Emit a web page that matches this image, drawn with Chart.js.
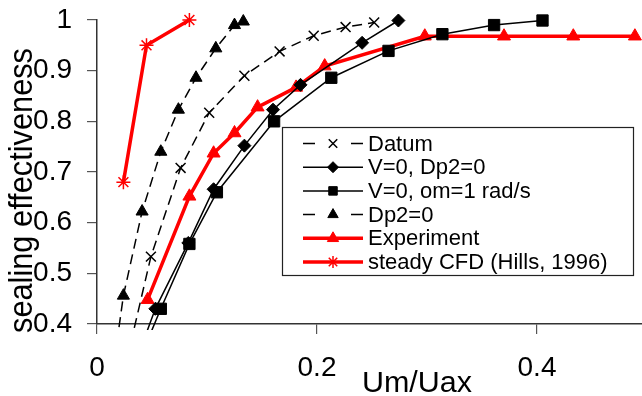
<!DOCTYPE html>
<html>
<head>
<meta charset="utf-8">
<script src="https://cdn.jsdelivr.net/npm/chart.js@4/dist/chart.umd.min.js"></script>
<style>
html, body { margin: 0; padding: 0; overflow: hidden; background: #fff; width: 642px; height: 396px; }
canvas { display: block; }
</style>
</head>
<body>
<canvas id="c" width="656" height="396"></canvas>
<script>
// ---- data ----
const datumX = [0.024, 0.049, 0.076, 0.102, 0.134, 0.166, 0.197, 0.226, 0.252];
const datumY = [0.300, 0.533, 0.708, 0.817, 0.890, 0.938, 0.969, 0.986, 0.995];

const v0dp2X = [0.031, 0.053, 0.083, 0.106, 0.134, 0.160, 0.185, 0.241, 0.274];
const v0dp2Y = [0.300, 0.430, 0.560, 0.666, 0.752, 0.823, 0.872, 0.955, 0.999];

const v0omX = [0.033, 0.058, 0.084, 0.109, 0.161, 0.213, 0.265, 0.314, 0.361, 0.405];
const v0omY = [0.300, 0.430, 0.558, 0.660, 0.800, 0.886, 0.939, 0.972, 0.990, 0.999];

const dp2X = [0.014, 0.024, 0.041, 0.058, 0.074, 0.090, 0.108, 0.125, 0.133];
const dp2Y = [0.300, 0.456, 0.622, 0.740, 0.823, 0.886, 0.944, 0.990, 0.997];

const expX = [0.046, 0.084, 0.106, 0.125, 0.146, 0.181, 0.207, 0.298, 0.370, 0.433, 0.489];
const expY = [0.448, 0.652, 0.737, 0.777, 0.828, 0.867, 0.909, 0.968, 0.968, 0.968, 0.968];

const cfdX = [0.024, 0.045, 0.084];
const cfdY = [0.680, 0.950, 1.000];

const xTicks = [0, 0.2, 0.4];
const yTicks = [0.4, 0.5, 0.6, 0.7, 0.8, 0.9, 1];
const xTitle = 'Um/Uax';
const yTitle = 'sealing effectiveness';
const labels = ['Datum', 'V=0, Dp2=0', 'V=0, om=1 rad/s', 'Dp2=0', 'Experiment', 'steady CFD (Hills, 1996)'];

const pts = (xs, ys) => xs.map((x, i) => ({x: x, y: ys[i]}));
const FONT = '"Liberation Sans", Arial, sans-serif';
const clip = {left: 10, top: 10, right: 10, bottom: 6};

const datasets = [
  {label: labels[0], data: pts(datumX, datumY), borderColor: '#000', backgroundColor: '#000', borderWidth: 1.5,
   borderDash: [10, 6], pointStyle: 'crossRot', pointRadius: 7, pointBorderWidth: 1.5, order: 2},
  {label: labels[1], data: pts(v0dp2X, v0dp2Y), borderColor: '#000', backgroundColor: '#000', borderWidth: 1.5,
   pointStyle: 'rectRot', pointRadius: 6.5, pointBorderWidth: 1, order: 2},
  {label: labels[2], data: pts(v0omX, v0omY), borderColor: '#000', backgroundColor: '#000', borderWidth: 1.5,
   pointStyle: 'rect', pointRadius: 8, pointBorderWidth: 1, order: 2},
  {label: labels[3], data: pts(dp2X, dp2Y), borderColor: '#000', backgroundColor: '#000', borderWidth: 1.5,
   borderDash: [10, 6], pointStyle: 'triangle', pointRadius: 7, pointBorderWidth: 1, order: 2},
  {label: labels[4], data: pts(expX, expY), borderColor: '#ff0000', backgroundColor: '#ff0000', borderWidth: 3.5,
   pointStyle: 'triangle', pointRadius: 7.5, pointBorderWidth: 1, order: 10},
  {label: labels[5], data: pts(cfdX, cfdY), borderColor: '#ff0000', backgroundColor: '#ff0000', borderWidth: 3.5,
   pointStyle: 'star', pointRadius: 7, pointBorderWidth: 1.5, order: 1}
];
datasets.forEach(d => { d.clip = clip; d.tension = 0; d.fill = false; d.pointBorderColor = d.borderColor; d.pointBackgroundColor = d.backgroundColor; });

const legendMarkerRadius = [6, 5.5, 6, 6, 6.5, 6];

function fitText(ctx, text, span) {
  const w = ctx.measureText(text).width;
  return span / w;
}

const decor = {
  id: 'decor',
  afterDraw(chart) {
    const ctx = chart.ctx;
    // axis titles, fitted to the spans seen in the reference
    ctx.save();
    ctx.fillStyle = '#000';
    ctx.font = '30px ' + FONT;
    ctx.textAlign = 'center';
    ctx.textBaseline = 'alphabetic';
    let k = fitText(ctx, xTitle, 110);
    ctx.translate(417, 392);
    ctx.scale(k, 1);
    ctx.fillText(xTitle, 0, 0);
    ctx.restore();

    ctx.save();
    ctx.fillStyle = '#000';
    ctx.font = '30px ' + FONT;
    ctx.textAlign = 'center';
    ctx.textBaseline = 'alphabetic';
    k = fitText(ctx, yTitle, 285);
    ctx.translate(32, 190.5);
    ctx.rotate(-Math.PI / 2);
    ctx.scale(k, 1.1);
    ctx.fillText(yTitle, 0, 0);
    ctx.restore();

    // legend
    const bx = 282, by = 127, bw = 351, bh = 148;
    ctx.save();
    ctx.fillStyle = '#fff';
    ctx.fillRect(bx, by, bw, bh);
    ctx.strokeStyle = '#222';
    ctx.lineWidth = 1.2;
    ctx.strokeRect(bx + 0.5, by + 0.5, bw, bh);
    chart.data.datasets.forEach((ds, i) => {
      const y = by + 16.5 + i * 23.7;
      ctx.save();
      ctx.strokeStyle = ds.borderColor;
      ctx.lineWidth = ds.borderWidth;
      ctx.setLineDash([]);
      ctx.beginPath();
      if (ds.borderDash) {
        ctx.moveTo(303, y); ctx.lineTo(315, y);
        ctx.moveTo(351, y); ctx.lineTo(363, y);
      } else {
        ctx.moveTo(303, y); ctx.lineTo(363, y);
      }
      ctx.stroke();
      ctx.fillStyle = ds.backgroundColor;
      ctx.strokeStyle = ds.borderColor;
      ctx.lineWidth = ds.pointBorderWidth;
      Chart.helpers.drawPoint(ctx, {pointStyle: ds.pointStyle, rotation: 0, radius: legendMarkerRadius[i], borderWidth: ds.pointBorderWidth}, 333, y);
      ctx.restore();
      ctx.fillStyle = '#000';
      ctx.font = '22px ' + FONT;
      ctx.textAlign = 'left';
      ctx.textBaseline = 'middle';
      ctx.fillText(ds.label, 368, y + 1);
    });
    ctx.restore();
  }
};

new Chart(document.getElementById('c'), {
  type: 'line',
  data: {datasets: datasets},
  options: {
    responsive: false,
    animation: false,
    events: [],
    layout: {padding: {top: 20, right: 1, left: 0, bottom: 0}},
    plugins: {legend: {display: false}, tooltip: {enabled: false}, title: {display: false}},
    scales: {
      x: {
        type: 'linear', min: 0, max: 0.5,
        afterBuildTicks: s => { s.ticks = xTicks.map(v => ({value: v})); },
        afterFit: s => { s.height = 72; s.paddingLeft = 0; s.paddingRight = 0; },
        border: {display: true, color: '#333', width: 1.5},
        grid: {display: true, drawOnChartArea: false, drawTicks: true, tickLength: 10, color: '#555', lineWidth: 1.2},
        ticks: {color: '#000', font: {size: 28, family: FONT}, padding: 17, maxRotation: 0,
                callback: v => String(v)}
      },
      y: {
        type: 'linear', min: 0.4, max: 1,
        afterBuildTicks: s => { s.ticks = yTicks.map(v => ({value: v})); },
        afterFit: s => { s.width = 97; s.paddingTop = 0; s.paddingBottom = 0; },
        border: {display: true, color: '#333', width: 1.5},
        grid: {display: true, drawOnChartArea: false, drawTicks: true, tickLength: 10, color: '#555', lineWidth: 1.2},
        ticks: {color: '#000', font: {size: 28, family: FONT}, padding: 15,
                callback: v => String(Math.round(v * 10) / 10)}
      }
    }
  },
  plugins: [decor]
});
</script>
</body>
</html>
